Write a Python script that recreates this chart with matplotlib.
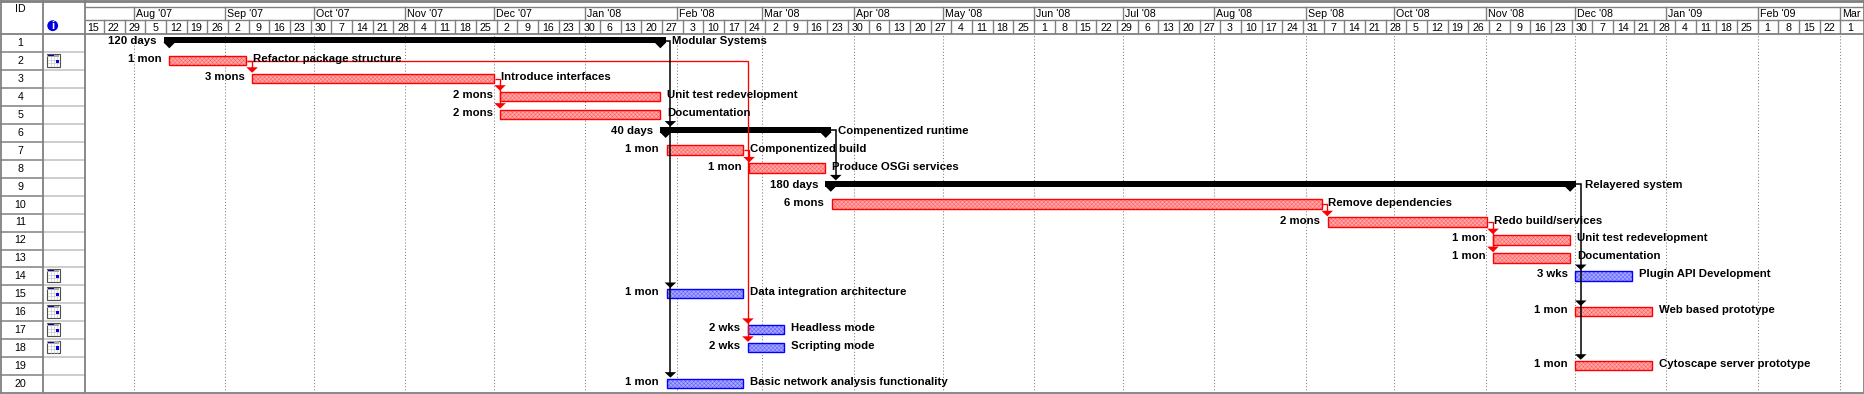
import matplotlib
matplotlib.use("Agg")
import matplotlib.pyplot as plt
import matplotlib.dates as mdates
import pandas as pd
from matplotlib.patches import Rectangle, Polygon, Circle

# ---------- data ----------
row_ids = list(range(1, 21))
task_names = ["Modular Systems", "Refactor package structure", "Introduce interfaces",
              "Unit test redevelopment", "Documentation", "Compenentized runtime",
              "Componentized build", "Produce OSGi services", "Relayered system",
              "Remove dependencies", "Redo build/services", "Unit test redevelopment",
              "Documentation", "Plugin API Development", "Data integration architecture",
              "Web based prototype", "Headless mode", "Scripting mode",
              "Cytoscape server prototype", "Basic network analysis functionality"]
durations = ["120 days", "1 mon", "3 mons", "2 mons", "2 mons", "40 days", "1 mon", "1 mon",
             "180 days", "6 mons", "2 mons", "1 mon", "1 mon", "3 wks", "1 mon", "1 mon",
             "2 wks", "2 wks", "1 mon", "1 mon"]
starts = ["2007-08-13 03:00", "2007-08-13 08:00", "2007-09-10 12:00", "2007-12-03 11:00",
          "2007-12-03 11:00", "2008-01-28 05:00", "2008-01-28 19:00", "2008-02-25 19:00",
          "2008-03-24 03:00", "2008-03-24 17:00", "2008-09-08 14:00", "2008-11-03 17:00",
          "2008-11-03 17:00", "2008-12-01 12:00", "2008-01-28 19:00", "2008-12-01 12:00",
          "2008-02-25 10:00", "2008-02-25 10:00", "2008-12-01 12:00", "2008-01-28 19:00"]
ends = ["2008-01-26 10:00", "2007-09-08 08:00", "2007-12-01 10:00", "2008-01-26 12:00",
        "2008-01-26 12:00", "2008-03-22 10:00", "2008-02-23 17:00", "2008-03-22 12:00",
        "2008-11-29 12:00", "2008-09-06 12:00", "2008-11-01 14:00", "2008-11-29 19:00",
        "2008-11-29 19:00", "2008-12-20 17:00", "2008-02-23 14:00", "2008-12-27 12:00",
        "2008-03-08 12:00", "2008-03-08 12:00", "2008-12-27 12:00", "2008-02-23 14:00"]
kinds = ["summary", "crit", "crit", "crit", "crit", "summary", "crit", "crit", "summary",
         "crit", "crit", "crit", "crit", "task", "task", "crit", "task", "task", "crit", "task"]
icon_rows = [2, 14, 15, 16, 17, 18]
red_links = [(2, [3]), (2, [17, 18]), (3, [4, 5]), (7, [8]), (10, [11]), (11, [12, 13])]
black_links = [(1, [6, 15, 20], 3.0), (6, [9], 5.0), (9, [14, 16, 19], 4.7)]
month_labels = ["Aug '07", "Sep '07", "Oct '07", "Nov '07", "Dec '07", "Jan '08", "Feb '08",
                "Mar '08", "Apr '08", "May '08", "Jun '08", "Jul '08", "Aug '08", "Sep '08",
                "Oct '08", "Nov '08", "Dec '08", "Jan '09", "Feb '09", "Mar"]
month_starts = pd.date_range("2007-08-01", periods=20, freq="MS")
week_starts = pd.date_range("2007-07-15", "2009-03-01", freq="7D")

# ---------- layout (pixels) ----------
W, H = 1865, 394
GANTT_L, GANTT_R, GANTT_T, GANTT_B = 85, 1863, 34.3, 393
PX_PER_DAY = 2.953
ROW_H = (GANTT_B - GANTT_T) / 20
GREY = "#808080"
FS_BOLD = 8.2
FS_REG = 7.7
plt.rcParams["font.family"] = ["Liberation Sans", "DejaVu Sans"]
plt.rcParams["hatch.linewidth"] = 0.3

fig = plt.figure(figsize=(W / 100, H / 100), dpi=100, facecolor="white")
def add_axes(l, r, t, b):
    a = fig.add_axes([l / W, 1 - b / H, (r - l) / W, (b - t) / H])
    a.axis("off")
    return a

aug1 = mdates.date2num(pd.Timestamp("2007-08-01"))
xlim = (aug1 + (GANTT_L - 133.5) / PX_PER_DAY, aug1 + (GANTT_R - 133.5) / PX_PER_DAY)

# full-figure pixel axes for the table part and the frame
base = add_axes(0, W, 0, H)
base.set_xlim(0, W); base.set_ylim(H, 0)

hdr = add_axes(GANTT_L, GANTT_R, 0, GANTT_T)
hdr.set_xlim(xlim); hdr.set_ylim(GANTT_T, 0)

ax = add_axes(GANTT_L, GANTT_R, GANTT_T, GANTT_B)
ax.set_xlim(xlim); ax.set_ylim(20, 0)

dx = 1 / PX_PER_DAY
dy = 1 / ROW_H
num = lambda s: mdates.date2num(pd.Timestamp(s))
S = {r: num(s) for r, s in zip(row_ids, starts)}
E = {r: num(e) for r, e in zip(row_ids, ends)}
K = dict(zip(row_ids, kinds))
SUM_EXT = 5.5

def bar_left(r):  return S[r] - (SUM_EXT * dx if K[r] == "summary" else 0)
def bar_right(r): return E[r] + (SUM_EXT * dx if K[r] == "summary" else 0)

# grid
for m in month_starts:
    ax.axvline(num(m), color=GREY, lw=0.75, ls=(0, (1, 2)), zorder=1)

# bars
STYLE = {"crit": ("#ffa6a6", "#ff0000", "#ff5050"), "task": ("#a6a6ff", "#0000ff", "#5050ff")}
for r in row_ids:
    top = r - 1
    if K[r] == "summary":
        ax.add_patch(Rectangle((bar_left(r), top + 3.0 * dy), bar_right(r) - bar_left(r), 5.8 * dy,
                               fc="black", ec="none", zorder=3))
        for c in (S[r], E[r]):
            ax.add_patch(Polygon([(c - 6 * dx, top + 8 * dy), (c + 6 * dx, top + 8 * dy), (c, top + 14 * dy)],
                                 fc="black", ec="none", zorder=3))
    else:
        fc, ec, hc = STYLE[K[r]]
        box = ((S[r] - 0.7 * dx, top + 3.5 * dy), E[r] - S[r] + 0.2 * dx, 9.6 * dy)
        ax.add_patch(Rectangle(*box, fc=fc, ec=hc, lw=0, hatch="xxxxxxxx", zorder=3))
        ax.add_patch(Rectangle(*box, fc="none", ec=ec, lw=1.0, zorder=3.1))

# links
def arrow(x, r, color):
    tip = r - 1 + 2.6 * dy
    ax.add_patch(Polygon([(x - 5.8 * dx, tip - 5.5 * dy), (x + 5.8 * dx, tip - 5.5 * dy), (x, tip)],
                         fc=color, ec="none", zorder=5))

def link(src, targets, x, color, lw):
    sy = src - 1 + (8.5 if K[src] != "summary" else 6.4) * dy
    last = targets[-1] - 1 + 1.0 * dy
    ax.plot([bar_right(src), x, x], [sy, sy, last], color=color, lw=lw, zorder=4,
            solid_joinstyle="miter", solid_capstyle="butt")
    for t in targets:
        arrow(x, t, color)

for src, targets in red_links:
    link(src, targets, S[targets[0]] - 1 * dx, "#ff0000", 0.95)
for src, targets, off in black_links:
    link(src, targets, S[targets[-1]] + off * dx, "black", 1.1)

# labels
for r, name, dur in zip(row_ids, task_names, durations):
    yc = r - 1 + 6.9 * dy
    extra = 3.4 if r == 9 else 0
    ax.text(bar_right(r) + (6.3 + extra) * dx, yc, name, fontsize=FS_BOLD, fontweight="bold",
            ha="left", va="center", zorder=6, color="black")
    ax.text(bar_left(r) - (8.5 if K[r] != "summary" else 7) * dx, yc, dur, fontsize=FS_BOLD, fontweight="bold",
            ha="right", va="center", zorder=6, color="black")

# header timescale
for m, lab in zip(month_starts, month_labels):
    hdr.plot([num(m), num(m)], [6.5, 20], color=GREY, lw=1.0, zorder=2)
    hdr.text(num(m) + 2.0 * dx, 13.8, lab, fontsize=FS_REG, ha="left", va="center", color="black")
for w in week_starts:
    hdr.plot([num(w), num(w)], [20, GANTT_T], color=GREY, lw=1.0, zorder=2)
    hdr.text(num(w) + 3.3, 28.2, str(w.day), fontsize=FS_REG, ha="center", va="center", color="black")

# frame and table
frame_lines = [((0, W), (1, 1), 2.0), ((GANTT_L, W), (6.5, 6.5), 1.0), ((GANTT_L, W), (20, 20), 1.0),
               ((0, W), (GANTT_T, GANTT_T), 1.3), ((0, W), (393, 393), 1.3),
               ((0.5, 0.5), (0, 393), 1.3), ((42.5, 42.5), (0, 393), 1.3),
               ((84.5, 84.5), (0, 393), 1.3), ((1863.5, 1863.5), (0, 393), 1.3)]
for xs, ys, lw in frame_lines:
    base.plot(xs, ys, color=GREY, lw=lw, zorder=10, solid_capstyle="butt")
base.text(20, 8.5, "ID", fontsize=FS_REG, ha="center", va="center")
for r in row_ids:
    y = GANTT_T + (r - 1) * ROW_H
    if r > 1:
        base.plot([0, 42.5], [y, y], color=GREY, lw=1.1, zorder=9)
        base.plot([42.5, 84.5], [y, y], color="#c0c0c0", lw=1.1, zorder=9)
    base.text(20.5, y + 8.8, str(r), fontsize=FS_REG, ha="center", va="center")

def table_icon(y):
    x0, y0 = 46.5, y + 1.8
    base.add_patch(Rectangle((x0, y0), 13, 12.5, fc="white", ec="#505050", lw=0.8, zorder=11))
    base.add_patch(Rectangle((x0 + 0.5, y0 + 0.5), 12, 2.2, fc="#a8a8a8", ec="none", zorder=11))
    base.plot([x0 + 1, x0 + 6.5], [y0 + 1, y0 + 1], color="#000090", lw=0.7, zorder=12)
    for fx in (4, 7.5, 10):
        base.plot([x0 + fx, x0 + fx], [y0 + 3, y0 + 12], color="#c8c8c8", lw=0.5, zorder=11)
    for fy in (5.5, 8.5):
        base.plot([x0 + 1, x0 + 12], [y0 + fy, y0 + fy], color="#c8c8c8", lw=0.5, zorder=11)
    base.add_patch(Rectangle((x0 + 9, y0 + 5.5), 3.6, 3.6, fc="#0000e0", ec="none", zorder=12))

for r in icon_rows:
    table_icon(GANTT_T + (r - 1) * ROW_H)

base.add_patch(Circle((52.7, 25.7), 5.4, fc="#0000e0", ec="none", zorder=11))
base.text(52.7, 25.9, "i", fontsize=8, fontweight="bold", color="white", ha="center", va="center", zorder=12)

fig.savefig("out.png", dpi=100)
